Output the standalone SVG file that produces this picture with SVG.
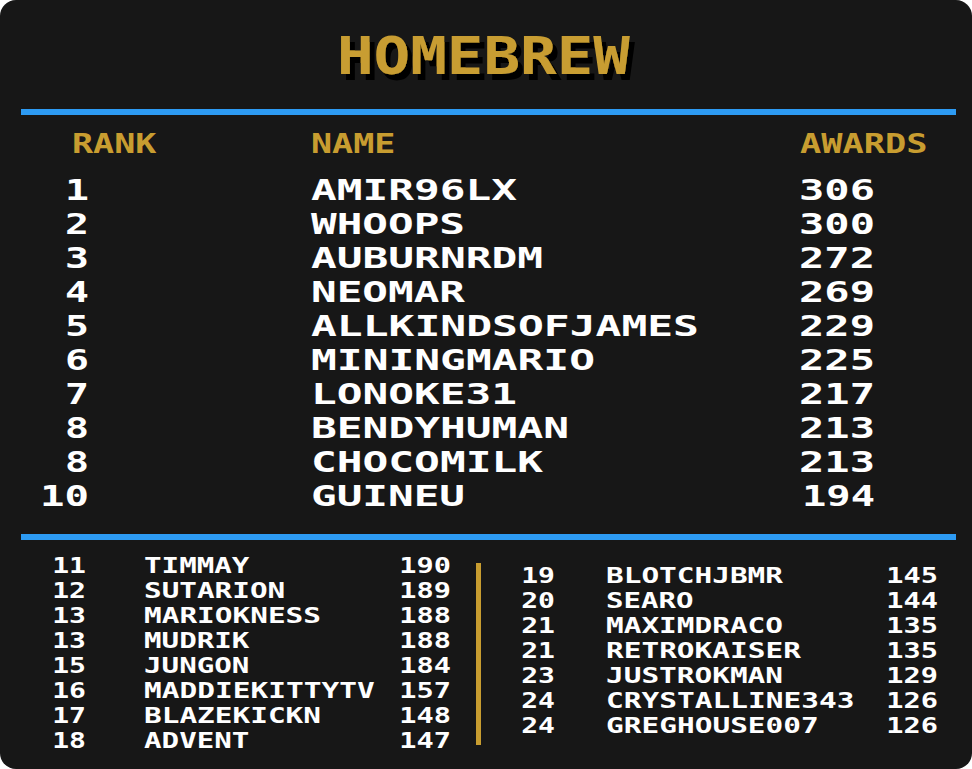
<svg xmlns="http://www.w3.org/2000/svg" width="972" height="769" viewBox="0 0 972 769">
<style>
text{font-family:"DejaVu Sans Mono","Liberation Mono",monospace;font-weight:bold}
.title{font-size:51px;fill:#C89D30}
.hdr{font-size:26.5px;fill:#C89D30}
.row{font-size:29px;fill:#FFFFFF}
.sm{font-size:20.5px;fill:#FFFFFF}
.blue{fill:#2D9BF3}
.gold{fill:#C89D30}
</style>
<defs>
<filter id="pxshadow" x="-5%" y="-20%" width="115%" height="150%">
<feDropShadow dx="5" dy="6" stdDeviation="0" flood-color="#050505" flood-opacity="1"/>
</filter>
</defs>
<rect x="0" y="0" width="972" height="769" fill="#FFFFFF"/>
<rect id="panel" x="0" y="0" width="972" height="769" rx="16" ry="16" fill="#171717"/>
<g id="title">
<text class="title" x="337" y="74" textLength="293" lengthAdjust="spacingAndGlyphs" filter="url(#pxshadow)">HOMEBREW</text>
</g>
<g id="dividers">
<rect class="blue" x="21" y="109" width="935" height="6"/>
<rect class="blue" x="21" y="534" width="935" height="6"/>
<rect class="gold" x="476" y="563" width="5" height="182"/>
</g>
<g id="header">
<text class="hdr" x="72" y="153" textLength="84.5" lengthAdjust="spacingAndGlyphs">RANK</text>
<text class="hdr" x="311" y="153" textLength="84.5" lengthAdjust="spacingAndGlyphs">NAME</text>
<text class="hdr" x="800" y="153" textLength="127.5" lengthAdjust="spacingAndGlyphs">AWARDS</text>
</g>
<g id="top10">
<g id="row1"><text class="row" x="65" y="199.5" textLength="24" lengthAdjust="spacingAndGlyphs">1</text><text class="row" x="311" y="199.5" textLength="206" lengthAdjust="spacingAndGlyphs">AMIR96LX</text><text class="row" x="799" y="199.5" textLength="76" lengthAdjust="spacingAndGlyphs">306</text></g>
<g id="row2"><text class="row" x="65" y="233.5" textLength="24" lengthAdjust="spacingAndGlyphs">2</text><text class="row" x="311" y="233.5" textLength="154" lengthAdjust="spacingAndGlyphs">WHOOPS</text><text class="row" x="799" y="233.5" textLength="76" lengthAdjust="spacingAndGlyphs">300</text></g>
<g id="row3"><text class="row" x="65" y="267.5" textLength="24" lengthAdjust="spacingAndGlyphs">3</text><text class="row" x="311" y="267.5" textLength="232" lengthAdjust="spacingAndGlyphs">AUBURNRDM</text><text class="row" x="799" y="267.5" textLength="76" lengthAdjust="spacingAndGlyphs">272</text></g>
<g id="row4"><text class="row" x="65" y="301.5" textLength="24" lengthAdjust="spacingAndGlyphs">4</text><text class="row" x="311" y="301.5" textLength="154" lengthAdjust="spacingAndGlyphs">NEOMAR</text><text class="row" x="799" y="301.5" textLength="76" lengthAdjust="spacingAndGlyphs">269</text></g>
<g id="row5"><text class="row" x="65" y="335.5" textLength="24" lengthAdjust="spacingAndGlyphs">5</text><text class="row" x="311" y="335.5" textLength="388" lengthAdjust="spacingAndGlyphs">ALLKINDSOFJAMES</text><text class="row" x="799" y="335.5" textLength="76" lengthAdjust="spacingAndGlyphs">229</text></g>
<g id="row6"><text class="row" x="65" y="369.5" textLength="24" lengthAdjust="spacingAndGlyphs">6</text><text class="row" x="311" y="369.5" textLength="284" lengthAdjust="spacingAndGlyphs">MININGMARIO</text><text class="row" x="799" y="369.5" textLength="76" lengthAdjust="spacingAndGlyphs">225</text></g>
<g id="row7"><text class="row" x="65" y="403.5" textLength="24" lengthAdjust="spacingAndGlyphs">7</text><text class="row" x="311" y="403.5" textLength="206" lengthAdjust="spacingAndGlyphs">LONOKE31</text><text class="row" x="799" y="403.5" textLength="76" lengthAdjust="spacingAndGlyphs">217</text></g>
<g id="row8"><text class="row" x="65" y="437.5" textLength="24" lengthAdjust="spacingAndGlyphs">8</text><text class="row" x="311" y="437.5" textLength="258" lengthAdjust="spacingAndGlyphs">BENDYHUMAN</text><text class="row" x="799" y="437.5" textLength="76" lengthAdjust="spacingAndGlyphs">213</text></g>
<g id="row9"><text class="row" x="65" y="471.5" textLength="24" lengthAdjust="spacingAndGlyphs">8</text><text class="row" x="311" y="471.5" textLength="232" lengthAdjust="spacingAndGlyphs">CHOCOMILK</text><text class="row" x="799" y="471.5" textLength="76" lengthAdjust="spacingAndGlyphs">213</text></g>
<g id="row10"><text class="row" x="40" y="505.5" textLength="49" lengthAdjust="spacingAndGlyphs">10</text><text class="row" x="311" y="505.5" textLength="154" lengthAdjust="spacingAndGlyphs">GUINEU</text><text class="row" x="802" y="505.5" textLength="73" lengthAdjust="spacingAndGlyphs">194</text></g>
</g>
<g id="left-list">
<g id="row11"><text class="sm" x="52.2" y="573" textLength="33.8" lengthAdjust="spacingAndGlyphs">11</text><text class="sm" x="144" y="573" textLength="105.4" lengthAdjust="spacingAndGlyphs">TIMMAY</text><text class="sm" x="399.3" y="573" textLength="51.7" lengthAdjust="spacingAndGlyphs">190</text></g>
<g id="row12"><text class="sm" x="52.2" y="598" textLength="33.8" lengthAdjust="spacingAndGlyphs">12</text><text class="sm" x="144" y="598" textLength="141.2" lengthAdjust="spacingAndGlyphs">SUTARION</text><text class="sm" x="399.3" y="598" textLength="51.7" lengthAdjust="spacingAndGlyphs">189</text></g>
<g id="row13"><text class="sm" x="52.2" y="623" textLength="33.8" lengthAdjust="spacingAndGlyphs">13</text><text class="sm" x="144" y="623" textLength="177" lengthAdjust="spacingAndGlyphs">MARIOKNESS</text><text class="sm" x="399.3" y="623" textLength="51.7" lengthAdjust="spacingAndGlyphs">188</text></g>
<g id="row14"><text class="sm" x="52.2" y="648" textLength="33.8" lengthAdjust="spacingAndGlyphs">13</text><text class="sm" x="144" y="648" textLength="105.4" lengthAdjust="spacingAndGlyphs">MUDRIK</text><text class="sm" x="399.3" y="648" textLength="51.7" lengthAdjust="spacingAndGlyphs">188</text></g>
<g id="row15"><text class="sm" x="52.2" y="673" textLength="33.8" lengthAdjust="spacingAndGlyphs">15</text><text class="sm" x="144" y="673" textLength="105.4" lengthAdjust="spacingAndGlyphs">JUNGON</text><text class="sm" x="399.3" y="673" textLength="51.7" lengthAdjust="spacingAndGlyphs">184</text></g>
<g id="row16"><text class="sm" x="52.2" y="698" textLength="33.8" lengthAdjust="spacingAndGlyphs">16</text><text class="sm" x="144" y="698" textLength="230.7" lengthAdjust="spacingAndGlyphs">MADDIEKITTYTV</text><text class="sm" x="399.3" y="698" textLength="51.7" lengthAdjust="spacingAndGlyphs">157</text></g>
<g id="row17"><text class="sm" x="52.2" y="723" textLength="33.8" lengthAdjust="spacingAndGlyphs">17</text><text class="sm" x="144" y="723" textLength="177" lengthAdjust="spacingAndGlyphs">BLAZEKICKN</text><text class="sm" x="399.3" y="723" textLength="51.7" lengthAdjust="spacingAndGlyphs">148</text></g>
<g id="row18"><text class="sm" x="52.2" y="748" textLength="33.8" lengthAdjust="spacingAndGlyphs">18</text><text class="sm" x="144" y="748" textLength="105.4" lengthAdjust="spacingAndGlyphs">ADVENT</text><text class="sm" x="399.3" y="748" textLength="51.7" lengthAdjust="spacingAndGlyphs">147</text></g>
</g>
<g id="right-list">
<g id="row19"><text class="sm" x="521.2" y="583" textLength="33.8" lengthAdjust="spacingAndGlyphs">19</text><text class="sm" x="606" y="583" textLength="177" lengthAdjust="spacingAndGlyphs">BLOTCHJBMR</text><text class="sm" x="886.3" y="583" textLength="51.7" lengthAdjust="spacingAndGlyphs">145</text></g>
<g id="row20"><text class="sm" x="521.2" y="608" textLength="33.8" lengthAdjust="spacingAndGlyphs">20</text><text class="sm" x="606" y="608" textLength="87.5" lengthAdjust="spacingAndGlyphs">SEARO</text><text class="sm" x="886.3" y="608" textLength="51.7" lengthAdjust="spacingAndGlyphs">144</text></g>
<g id="row21"><text class="sm" x="521.2" y="633" textLength="33.8" lengthAdjust="spacingAndGlyphs">21</text><text class="sm" x="606" y="633" textLength="177" lengthAdjust="spacingAndGlyphs">MAXIMDRACO</text><text class="sm" x="886.3" y="633" textLength="51.7" lengthAdjust="spacingAndGlyphs">135</text></g>
<g id="row22"><text class="sm" x="521.2" y="658" textLength="33.8" lengthAdjust="spacingAndGlyphs">21</text><text class="sm" x="606" y="658" textLength="194.9" lengthAdjust="spacingAndGlyphs">RETROKAISER</text><text class="sm" x="886.3" y="658" textLength="51.7" lengthAdjust="spacingAndGlyphs">135</text></g>
<g id="row23"><text class="sm" x="521.2" y="683" textLength="33.8" lengthAdjust="spacingAndGlyphs">23</text><text class="sm" x="606" y="683" textLength="177" lengthAdjust="spacingAndGlyphs">JUSTROKMAN</text><text class="sm" x="886.3" y="683" textLength="51.7" lengthAdjust="spacingAndGlyphs">129</text></g>
<g id="row24"><text class="sm" x="521.2" y="708" textLength="33.8" lengthAdjust="spacingAndGlyphs">24</text><text class="sm" x="606" y="708" textLength="248.6" lengthAdjust="spacingAndGlyphs">CRYSTALLINE343</text><text class="sm" x="886.3" y="708" textLength="51.7" lengthAdjust="spacingAndGlyphs">126</text></g>
<g id="row25"><text class="sm" x="521.2" y="733" textLength="33.8" lengthAdjust="spacingAndGlyphs">24</text><text class="sm" x="606" y="733" textLength="212.8" lengthAdjust="spacingAndGlyphs">GREGHOUSE007</text><text class="sm" x="886.3" y="733" textLength="51.7" lengthAdjust="spacingAndGlyphs">126</text></g>
</g>
</svg>
